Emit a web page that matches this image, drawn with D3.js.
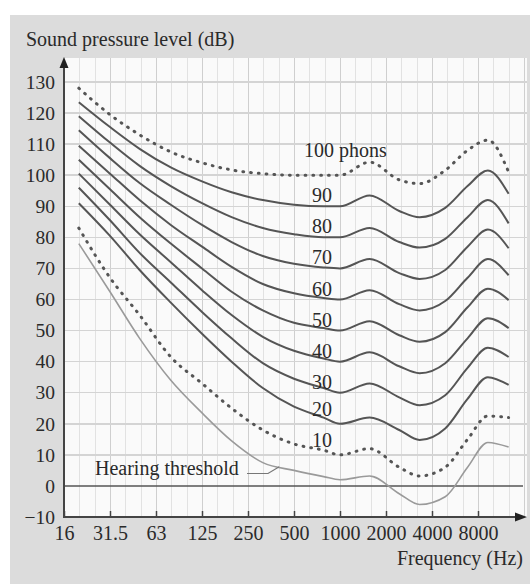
<!DOCTYPE html>
<html lang="en">
<head>
<meta charset="utf-8">
<script src="https://d3js.org/d3.v7.min.js"></script>
<style type="text/css">
body { margin: 0; background: #fff; }
svg text {
  font-family: "Liberation Serif", "Times New Roman", Times, "DejaVu Serif", serif !important;
  fill: #2a2a2a;
}
.grid line { shape-rendering: crispEdges; }
</style>
</head>
<body>
<div id="chart"></div>
<script type="text/javascript">

// frequencies (Hz) the curves were read at
var freqs = [20, 32, 50, 80, 128, 200, 320, 512, 800, 1024, 1600, 2500, 3400, 5000, 7000, 9500, 13000];

// sound pressure level (dB) of each equal-loudness contour
var phon100 = [128, 119.5, 113, 107.5, 104, 101.7, 100.5, 100, 100, 100, 104.2, 98.5, 97.3, 101.6, 108, 111.3, 101];
var phon90  = [123.5, 115.5, 108.5, 102.5, 98, 94.5, 92, 90.5, 90, 90, 93.5, 88.5, 86.5, 89.5, 96.5, 101.5, 94];
var phon80  = [119, 110.5, 103, 96.5, 91, 86.5, 83, 81, 80, 80, 83, 78.5, 76.7, 79.5, 86.5, 92, 84.5];
var phon70  = [114.5, 105.5, 97.5, 90.5, 84, 78.5, 74, 71.5, 70.3, 70, 73, 68.5, 66.6, 69.5, 77, 82.5, 76.5];
var phon60  = [109.5, 100.5, 92, 84, 77, 70.5, 65, 62, 60.5, 60, 63, 58.5, 56.5, 59.5, 67, 73, 67.8];
var phon50  = [105, 95.5, 86.5, 78, 70, 62.5, 56.5, 52.5, 50.8, 50, 53, 48.5, 46.4, 49.5, 57.5, 63.5, 59.8];
var phon40  = [100.5, 90.5, 81, 72, 63, 55, 48, 43.5, 41, 40, 43, 38.5, 36.3, 39.5, 47.5, 54, 50.8];
var phon30  = [96, 85.5, 75, 65.5, 56, 47.5, 39.5, 34.5, 31.5, 30, 33, 28.5, 26, 29.2, 38, 44.5, 41.5];
var phon20  = [91, 80.5, 69.5, 59, 49, 40, 31.5, 25.5, 22, 20, 22, 18, 14.8, 18.5, 28, 35, 32.5];
var phon10  = [83, 67, 55, 41.5, 33, 25, 18, 13.5, 11.5, 10, 12, 6, 3.2, 6, 15, 22.5, 22];
var threshold = [78, 62.5, 47.5, 34, 23.5, 14.5, 7.5, 5, 3, 2, 3.2, -2.5, -6, -3.5, 6, 14, 12.5];

var solidCurves = [phon90, phon80, phon70, phon60, phon50, phon40, phon30, phon20];
var solidPhons = [90, 80, 70, 60, 50, 40, 30, 20];

// axis ticks
var xTickValues = [16, 32, 64, 128, 256, 512, 1024, 2048, 4096, 8192];
var xTickLabels = ["16", "31.5", "63", "125", "250", "500", "1000", "2000", "4000", "8000"];
var yTickValues = [-10, 0, 10, 20, 30, 40, 50, 60, 70, 80, 90, 100, 110, 120, 130];

var width = 530;
var height = 584;

var svg = d3.select("#chart")
  .append("svg")
  .attr("width", width)
  .attr("height", height);

// grey panel behind everything
svg.append("rect")
  .attr("x", 10).attr("y", 15)
  .attr("width", width - 10).attr("height", height - 15)
  .style("fill", "#dcdcdc");

var x = d3.scaleLog().base(2)
  .domain([16, 16384])
  .range([64, 524]);

var y = d3.scaleLinear()
  .domain([-10, 130])
  .range([517, 82]);

var plotLeft = 64, plotRight = 527, plotTop = 58, plotBottom = y(-10);

// plot area
svg.append("rect")
  .attr("x", plotLeft).attr("y", plotTop)
  .attr("width", plotRight - plotLeft).attr("height", plotBottom - plotTop)
  .style("fill", "#fafafa");

// third-octave vertical grid
var grid = svg.append("g").attr("class", "grid");
var thirds = d3.range(1, 31).map(function(k) { return 16 * Math.pow(2, k / 3); });
grid.selectAll("line.v")
  .data(thirds)
  .enter().append("line")
  .attr("class", "v")
  .attr("x1", function(d) { return Math.round(x(d)) + 0.5; })
  .attr("x2", function(d) { return Math.round(x(d)) + 0.5; })
  .attr("y1", plotTop).attr("y2", plotBottom)
  .style("stroke", function(d, i) { return (i + 1) % 3 == 0 ? "#cfcfcf" : "#e2e2e2"; })
  .style("stroke-width", function(d, i) { return (i + 1) % 3 == 0 ? 1.5 : 1; });

// horizontal grid every 10 dB
grid.selectAll("line.h")
  .data(yTickValues.filter(function(d) { return d > 0; }))
  .enter().append("line")
  .attr("class", "h")
  .attr("x1", plotLeft).attr("x2", plotRight)
  .attr("y1", function(d) { return y(d); })
  .attr("y2", function(d) { return y(d); })
  .style("stroke", "#d4d4d4")
  .style("stroke-width", 1.5);

// 0 dB line
svg.append("line")
  .attr("x1", plotLeft).attr("x2", 523)
  .attr("y1", y(0)).attr("y2", y(0))
  .style("stroke", "#555")
  .style("stroke-width", 1.6);

var line = d3.line()
  .x(function(d) { return x(d[0]); })
  .y(function(d) { return y(d[1]); })
  .curve(d3.curveMonotoneX);

function pairs(vals) {
  return freqs.map(function(f, i) { return [f, vals[i]]; });
}

// hearing threshold
svg.append("path")
  .attr("d", line(pairs(threshold)))
  .style("fill", "none")
  .style("stroke", "#9a9a9a")
  .style("stroke-width", 1.6);

// solid contours
svg.selectAll("path.solid")
  .data(solidCurves)
  .enter().append("path")
  .attr("class", "solid")
  .attr("d", function(d) { return line(pairs(d)); })
  .style("fill", "none")
  .style("stroke", "#555")
  .style("stroke-width", 2);

// dotted contours
svg.selectAll("path.dotted")
  .data([phon100, phon10])
  .enter().append("path")
  .attr("class", "dotted")
  .attr("d", function(d) { return line(pairs(d)); })
  .style("fill", "none")
  .style("stroke", "#555")
  .style("stroke-width", 3)
  .style("stroke-linecap", "round")
  .style("stroke-dasharray", "0.8 7");

// phon labels
var labelX = x(780);
svg.selectAll("text.phon")
  .data(solidPhons.concat([10]))
  .enter().append("text")
  .attr("class", "phon")
  .attr("x", labelX)
  .attr("y", function(d) { return y(d) - (d <= 20 ? 8 : 4); })
  .attr("text-anchor", "middle")
  .style("font-size", "20px")
  .text(function(d) { return d; });

svg.append("text")
  .attr("x", 304)
  .attr("y", y(100) - 18)
  .style("font-size", "20px")
  .text("100 phons");

// hearing threshold label with leader
var thrAt = d3.scaleLog().domain(freqs).range(threshold);
svg.append("text")
  .attr("x", 95)
  .attr("y", 475)
  .style("font-size", "20px")
  .text("Hearing threshold");
svg.append("path")
  .attr("d", "M247," + (y(4)) + "H268L" + x(410) + "," + y(thrAt(410)))
  .style("fill", "none")
  .style("stroke", "#777")
  .style("stroke-width", 1.2);

// axes
var xAxis = d3.axisBottom(x)
  .tickValues(xTickValues)
  .tickFormat(function(d, i) { return xTickLabels[i]; })
  .tickSizeInner(-6)
  .tickSizeOuter(0)
  .tickPadding(9);

var gx = svg.append("g")
  .attr("transform", "translate(0," + plotBottom + ")")
  .call(xAxis);
gx.attr("font-family", null);
gx.select(".domain").remove();
gx.selectAll("line").style("stroke", "#444").style("stroke-width", 1.5);
gx.selectAll("text").style("font-size", "20px").style("fill", "#2a2a2a");

var yAxis = d3.axisLeft(y)
  .tickValues(yTickValues)
  .tickFormat(function(d) { return d < 0 ? "\u2212" + Math.abs(d) : d; })
  .tickSize(0)
  .tickPadding(9);

var gy = svg.append("g")
  .attr("transform", "translate(" + plotLeft + ",0)")
  .call(yAxis);
gy.attr("font-family", null);
gy.select(".domain").remove();
gy.selectAll("text").style("font-size", "19.5px").style("fill", "#2a2a2a");

// axis lines with arrow heads
svg.append("line")
  .attr("x1", plotLeft).attr("x2", plotLeft)
  .attr("y1", plotBottom + 1).attr("y2", 66)
  .style("stroke", "#444").style("stroke-width", 2);
svg.append("path")
  .attr("d", "M" + plotLeft + ",57L" + (plotLeft - 4.5) + ",68L" + (plotLeft + 4.5) + ",68Z")
  .style("fill", "#222");

svg.append("line")
  .attr("x1", plotLeft - 1).attr("x2", 516)
  .attr("y1", plotBottom).attr("y2", plotBottom)
  .style("stroke", "#444").style("stroke-width", 2);
svg.append("path")
  .attr("d", "M527," + plotBottom + "L515," + (plotBottom - 4.5) + "L515," + (plotBottom + 4.5) + "Z")
  .style("fill", "#222");

// titles
svg.append("text")
  .attr("x", 26)
  .attr("y", 46)
  .style("font-size", "20px")
  .text("Sound pressure level (dB)");

svg.append("text")
  .attr("x", 523)
  .attr("y", 565)
  .attr("text-anchor", "end")
  .style("font-size", "20px")
  .text("Frequency (Hz)");

</script>
</body>
</html>
